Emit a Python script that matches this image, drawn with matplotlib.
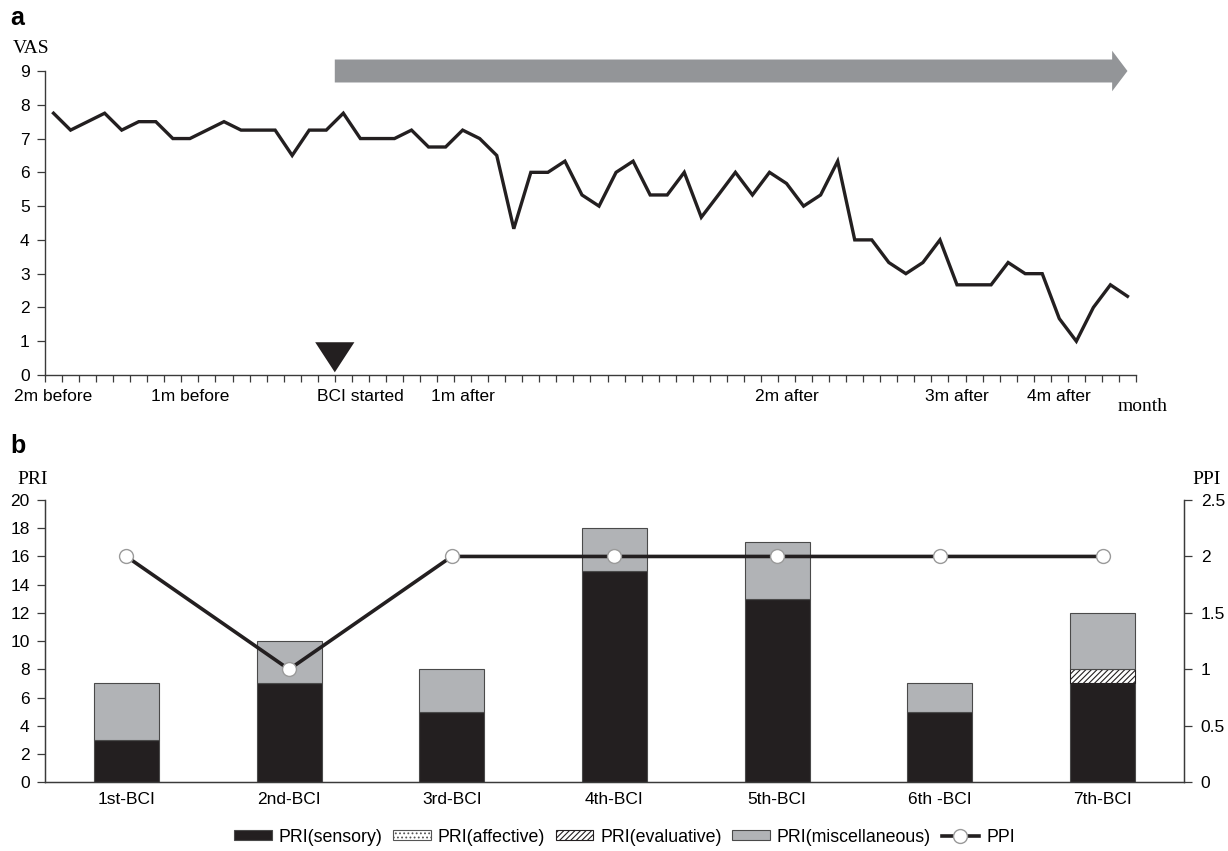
import numpy as np
import matplotlib
matplotlib.use("Agg")
import matplotlib.pyplot as plt
from matplotlib.patches import FancyArrow, Polygon
from matplotlib.ticker import FuncFormatter

plt.rcParams['font.family'] = ['Liberation Sans', 'DejaVu Sans']
plt.rcParams['hatch.linewidth'] = 0.8

# ---- panel a: VAS over time ----
vas = [7.75, 7.25, 7.5, 7.75, 7.25, 7.5, 7.5, 7.0, 7.0, 7.25,
       7.5, 7.25, 7.25, 7.25, 6.5, 7.25, 7.25, 7.75, 7.0, 7.0,
       7.0, 7.25, 6.75, 6.75, 7.25, 7.0, 6.5, 4.33, 6.0, 6.0,
       6.33, 5.33, 5.0, 6.0, 6.33, 5.33, 5.33, 6.0, 4.67, 5.33,
       6.0, 5.33, 6.0, 5.67, 5.0, 5.33, 6.33, 4.0, 4.0, 3.33,
       3.0, 3.33, 4.0, 2.67, 2.67, 2.67, 3.33, 3.0, 3.0, 1.67,
       1.0, 2.0, 2.67, 2.33]
time_labels = ["2m before", "1m before", "BCI started", "1m after",
               "2m after", "3m after", "4m after"]
time_label_idx = [0, 8, 18, 24, 43, 53, 59]
bci_start = 17  # boundary where BCI starts

# ---- panel b: PRI / PPI per session ----
sessions = ["1st-BCI", "2nd-BCI", "3rd-BCI", "4th-BCI", "5th-BCI", "6th -BCI", "7th-BCI"]
pri_sensory = [3, 7, 5, 15, 13, 5, 7]
pri_affective = [0, 0, 0, 0, 0, 0, 0]
pri_evaluative = [0, 0, 0, 0, 0, 0, 1]
pri_misc = [4, 3, 3, 3, 4, 2, 4]
ppi = [2, 1, 2, 2, 2, 2, 2]

dark = '#231f20'
spine_c = '#3a3a3a'
fs = 12.5

fig = plt.figure(figsize=(12.28, 8.51), dpi=100)

# ================= a =================
ax = fig.add_axes([0.03664, 0.55934, 0.88844, 0.35723])
n = len(vas)
x = np.arange(n) + 0.5
ax.plot(x, vas, color=dark, lw=2.4, solid_joinstyle='miter')
ax.set_xlim(0, n)
ax.set_ylim(0, 9)
ax.set_yticks(range(0, 10))
ax.set_xticks(range(0, n + 1))
ax.set_xticklabels([])
ax.set_xticks([i + 0.5 for i in time_label_idx], minor=True)
ax.set_xticklabels(time_labels, minor=True, fontsize=fs)
ax.tick_params(axis='x', which='major', direction='out', length=5, width=0.9, color=spine_c)
ax.tick_params(axis='x', which='minor', length=0, pad=10)
ax.tick_params(axis='y', direction='out', length=6, width=0.9, color=spine_c, labelsize=fs, pad=5)
for s in ['top', 'right']:
    ax.spines[s].set_visible(False)
for s in ['left', 'bottom']:
    ax.spines[s].set_color(spine_c)
    ax.spines[s].set_linewidth(1.0)

# treatment arrow and BCI start marker
arrow = FancyArrow(bci_start, 9.0, n - 0.5 - bci_start, 0, width=0.68,
                   head_width=1.2, head_length=0.9, length_includes_head=True,
                   color='#939598', lw=0, clip_on=False)
ax.add_patch(arrow)
tri = Polygon([[bci_start - 1.15, 0.97], [bci_start + 1.15, 0.97], [bci_start, 0.08]],
              closed=True, color=dark, lw=0, clip_on=False)
ax.add_patch(tri)

fig.text(13 / 1228, 1 - 53 / 851, "VAS", family='Liberation Serif', fontsize=14, va='baseline')
fig.text(1118 / 1228, 1 - 411 / 851, "month", family='Liberation Serif', fontsize=14, va='baseline')
fig.text(10 / 1228, 1 - 25 / 851, "a", fontsize=18, fontweight='bold', va='baseline')

# ================= b =================
ax2 = fig.add_axes([0.03664, 0.08073, 0.92752, 0.33173])
xb = np.arange(len(sessions))
w = 0.4
ec = '#4a4a4a'
b1 = ax2.bar(xb, pri_sensory, w, color=dark, edgecolor=ec, lw=0.8, label='PRI(sensory)')
bottom = np.array(pri_sensory, dtype=float)
b2 = ax2.bar(xb, pri_affective, w, bottom=bottom, color='white', edgecolor='#555555',
             hatch='....', lw=0.8, label='PRI(affective)')
bottom += pri_affective
b3 = ax2.bar(xb, pri_evaluative, w, bottom=bottom, color='white', edgecolor=dark,
             hatch='//////', lw=0.8, label='PRI(evaluative)')
bottom += pri_evaluative
b4 = ax2.bar(xb, pri_misc, w, bottom=bottom, color='#b1b3b6', edgecolor=ec,
             lw=0.8, label='PRI(miscellaneous)')
ax2.set_xlim(-0.5, len(sessions) - 0.5)
ax2.set_ylim(0, 20)
ax2.set_yticks(range(0, 21, 2))
ax2.set_xticks(xb)
ax2.set_xticklabels(sessions, fontsize=fs)
ax2.tick_params(axis='x', length=0, pad=7)
ax2.tick_params(axis='y', direction='out', length=6, width=0.9, color=spine_c, labelsize=fs, pad=5)
ax2.spines['top'].set_visible(False)
for s in ['left', 'bottom', 'right']:
    ax2.spines[s].set_color(spine_c)
    ax2.spines[s].set_linewidth(1.0)

ax3 = ax2.twinx()
ln, = ax3.plot(xb, ppi, color=dark, lw=2.6, marker='o', markersize=10,
               markerfacecolor='white', markeredgecolor='#9a9a9a', markeredgewidth=1.0,
               label='PPI')
ax3.set_ylim(0, 2.5)
ax3.set_yticks(np.arange(0, 2.6, 0.5))
ax3.yaxis.set_major_formatter(FuncFormatter(lambda v, p: f"{v:g}"))
ax3.tick_params(axis='y', direction='out', length=6, width=0.9, color=spine_c, labelsize=fs, pad=6)
ax3.spines['top'].set_visible(False)
for s in ['left', 'bottom', 'right']:
    ax3.spines[s].set_color(spine_c)

fig.text(17 / 1228, 1 - 484 / 851, "PRI", family='Liberation Serif', fontsize=14, va='baseline')
fig.text(1192 / 1228, 1 - 484 / 851, "PPI", family='Liberation Serif', fontsize=14, va='baseline')
fig.text(10 / 1228, 1 - 453 / 851, "b", fontsize=18, fontweight='bold', va='baseline')

fig.legend([b1, b2, b3, b4, ln],
           ['PRI(sensory)', 'PRI(affective)', 'PRI(evaluative)', 'PRI(miscellaneous)', 'PPI'],
           loc='center', bbox_to_anchor=(624.5 / 1228, 1 - 837 / 851), ncol=5,
           frameon=False, fontsize=12.8, handlelength=2.1, handleheight=0.45,
           handletextpad=0.4, columnspacing=0.6, borderpad=0)

fig.savefig("out.png", dpi=100)
